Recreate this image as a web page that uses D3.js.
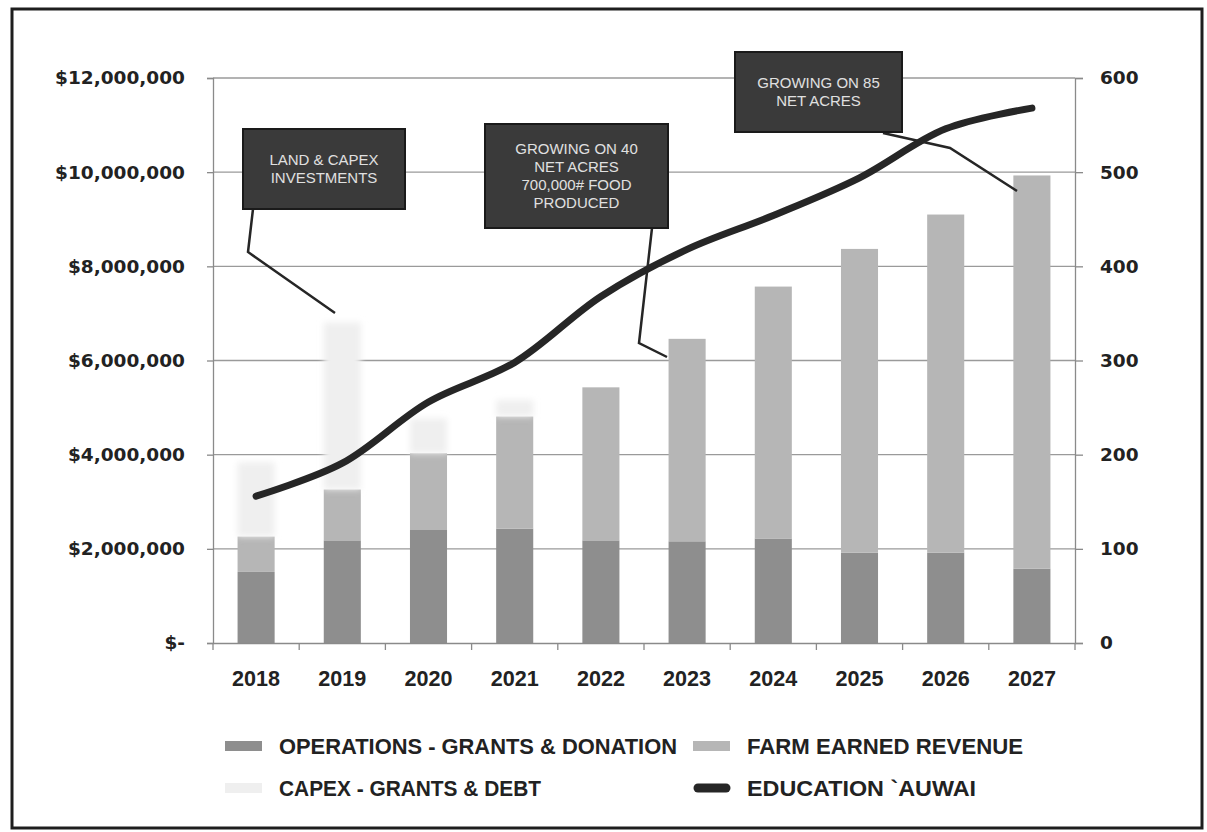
<!DOCTYPE html>
<html>
<head>
<meta charset="utf-8">
<script src="https://cdn.jsdelivr.net/npm/d3@7"></script>
<style>
  body { margin: 0; background: #fff; }
  svg { display: block; }
</style>
</head>
<body>
<div class="chart"></div>
<script>
// chart values
const years = ['2018','2019','2020','2021','2022','2023','2024','2025','2026','2027'];
const operations = [1510000, 2180000, 2400000, 2430000, 2180000, 2160000, 2220000, 1920000, 1920000, 1580000];
const farmRevenue = [750000, 1080000, 1630000, 2380000, 3250000, 4300000, 5350000, 6450000, 7180000, 8350000];
const capex = [1580000, 3550000, 740000, 350000, 0, 0, 0, 0, 0, 0];
const education = [156, 191, 256, 298, 368, 418, 454, 494, 546, 568];
const leftTicks = [0, 2000000, 4000000, 6000000, 8000000, 10000000, 12000000];
const rightTicks = [0, 100, 200, 300, 400, 500, 600];

const series = [
  { key: 'ops', name: 'OPERATIONS - GRANTS & DONATION', values: operations, color: '#8e8e8e' },
  { key: 'farm', name: 'FARM EARNED REVENUE', values: farmRevenue, color: '#b6b6b6' },
  { key: 'capex', name: 'CAPEX - GRANTS & DEBT', values: capex, color: '#efefef' }
];

const callouts = [
  { lines: ['LAND & CAPEX', 'INVESTMENTS'], box: [243, 129, 162, 80], leader: [[253, 209], [248, 252], [335, 313]] },
  { lines: ['GROWING ON 40', 'NET ACRES', '700,000# FOOD', 'PRODUCED'], box: [485, 124, 183, 104], leader: [[652, 228], [639, 343], [667, 357]] },
  { lines: ['GROWING ON 85', 'NET ACRES'], box: [735, 52, 167, 80], leader: [[883, 133], [950, 148], [1017, 191]] }
];

const W = 1207, H = 832;
const margin = { top: 78, right: 132, bottom: 189, left: 213 };
const width = W - margin.left - margin.right,
      height = H - margin.top - margin.bottom;

const svg = d3.select('div.chart').append('svg')
    .attr('width', W)
    .attr('height', H);

// outer frame
svg.append('rect')
    .attr('x', 12).attr('y', 9)
    .attr('width', 1190).attr('height', 819)
    .attr('fill', '#fff')
    .attr('stroke', '#1e1e1e')
    .attr('stroke-width', 3);

const g = svg.append('g')
    .attr('transform', `translate(${margin.left},${margin.top})`);

const x = d3.scaleBand().domain(years).range([0, width]).paddingInner(0.57).paddingOuter(0.285);
const y = d3.scaleLinear().domain([0, 12000000]).range([height, 0]);
const y2 = d3.scaleLinear().domain([0, 600]).range([height, 0]);

// gridlines
g.append('g')
    .selectAll('line')
    .data(leftTicks.slice(1))
    .enter().append('line')
      .attr('x1', 0).attr('x2', width)
      .attr('y1', d => y(d)).attr('y2', d => y(d))
      .attr('stroke', '#9a9a9a')
      .attr('stroke-width', 1.3);

// stacked bars
const table = years.map((yr, i) => {
  const row = { year: yr };
  series.forEach(s => row[s.key] = s.values[i]);
  return row;
});
const stacked = d3.stack().keys(series.map(s => s.key))(table);

g.append('defs').append('filter')
    .attr('id', 'soft')
    .append('feGaussianBlur').attr('stdDeviation', 3);

stacked.forEach((layer, li) => {
  g.append('g')
      .attr('filter', series[li].key === 'capex' ? 'url(#soft)' : null)
    .selectAll('rect')
    .data(layer.filter(d => d[1] > d[0]))
    .enter().append('rect')
      .attr('x', d => x(d.data.year))
      .attr('y', d => y(d[1]))
      .attr('width', x.bandwidth())
      .attr('height', d => y(d[0]) - y(d[1]))
      .attr('fill', series[li].color);
});

// axes
const axisColor = '#8a8a8a';
const leftFmt = d => d === 0 ? '$-' : '$' + d3.format(',')(d);

const yAxis = g.append('g')
    .call(d3.axisLeft(y).tickValues(leftTicks).tickFormat(leftFmt).tickSize(6).tickPadding(22));
const yAxis2 = g.append('g')
    .attr('transform', `translate(${width},0)`)
    .call(d3.axisRight(y2).tickValues(rightTicks).tickSize(8).tickPadding(17));
const xAxis = g.append('g')
    .attr('transform', `translate(0,${height})`)
    .call(d3.axisBottom(x).tickSize(0).tickPadding(27));

[yAxis, yAxis2, xAxis].forEach(a => {
  a.select('.domain').attr('stroke', axisColor).attr('stroke-width', 1.3);
  a.selectAll('.tick line').attr('stroke', axisColor).attr('stroke-width', 1.3);
});
yAxis.selectAll('text').attr('font-family', 'DejaVu Sans').attr('font-weight', 'bold')
    .attr('font-size', 18.5).attr('fill', '#222');
yAxis2.selectAll('text').attr('font-family', 'DejaVu Sans').attr('font-weight', 'bold')
    .attr('font-size', 18.5).attr('fill', '#222');
xAxis.selectAll('text').attr('font-family', "'Liberation Sans', Arial, sans-serif")
    .attr('font-weight', 'bold').attr('font-size', 22).attr('fill', '#222')
    .attr('textLength', 48).attr('lengthAdjust', 'spacingAndGlyphs');

// category boundary ticks on the x axis
const step = x.step();
g.append('g')
    .selectAll('line')
    .data(d3.range(years.length + 1))
    .enter().append('line')
      .attr('x1', d => d * step).attr('x2', d => d * step)
      .attr('y1', height).attr('y2', height + 7)
      .attr('stroke', axisColor).attr('stroke-width', 1.3);

// education line
const line = d3.line()
    .x((d, i) => x(years[i]) + x.bandwidth() / 2)
    .y(d => y2(d))
    .curve(d3.curveCatmullRom.alpha(0.5));

g.append('path')
    .datum(education)
    .attr('fill', 'none')
    .attr('stroke', '#262626')
    .attr('stroke-width', 7)
    .attr('stroke-linecap', 'round')
    .attr('stroke-linejoin', 'round')
    .attr('d', line);

// callouts
callouts.forEach(c => {
  svg.append('path')
      .attr('d', d3.line()(c.leader))
      .attr('fill', 'none')
      .attr('stroke', '#262626')
      .attr('stroke-width', 2.5);
  const [bx, by, bw, bh] = c.box;
  svg.append('rect')
      .attr('x', bx).attr('y', by)
      .attr('width', bw).attr('height', bh)
      .attr('fill', '#3a3a3a')
      .attr('stroke', '#1a1a1a')
      .attr('stroke-width', 2);
  const lh = 18;
  const y0 = by + bh / 2 - (c.lines.length - 1) * lh / 2;
  svg.append('text')
      .attr('text-anchor', 'middle')
      .attr('font-family', "'Liberation Sans', Arial, sans-serif")
      .attr('font-size', 15)
      .attr('fill', '#e0e0e0')
    .selectAll('tspan')
    .data(c.lines)
    .enter().append('tspan')
      .attr('x', bx + bw / 2)
      .attr('y', (d, i) => y0 + i * lh)
      .attr('dy', '0.35em')
      .text(d => d);
});

// legend
const legendItems = [
  { name: series[0].name, color: series[0].color, type: 'bar', x: 225, y: 746, len: 398 },
  { name: series[1].name, color: series[1].color, type: 'bar', x: 693, y: 746, len: 276 },
  { name: series[2].name, color: series[2].color, type: 'bar', x: 225, y: 788, len: 262 },
  { name: 'EDUCATION `AUWAI', color: '#262626', type: 'line', x: 693, y: 788, len: 229 }
];
const legend = svg.append('g');
legendItems.forEach(d => {
  if (d.type === 'bar') {
    legend.append('rect')
        .attr('x', d.x).attr('y', d.y - 5)
        .attr('width', 37).attr('height', 10)
        .attr('fill', d.color);
  } else {
    legend.append('line')
        .attr('x1', d.x + 5).attr('x2', d.x + 33)
        .attr('y1', d.y).attr('y2', d.y)
        .attr('stroke', d.color).attr('stroke-width', 9)
        .attr('stroke-linecap', 'round');
  }
  legend.append('text')
      .attr('x', d.x + 54).attr('y', d.y)
      .attr('dy', '0.36em')
      .attr('font-family', "'Liberation Sans', Arial, sans-serif")
      .attr('font-weight', 'bold')
      .attr('font-size', 22)
      .attr('fill', '#222')
      .attr('textLength', d.len)
      .attr('lengthAdjust', 'spacingAndGlyphs')
      .text(d.name);
});
</script>
</body>
</html>
